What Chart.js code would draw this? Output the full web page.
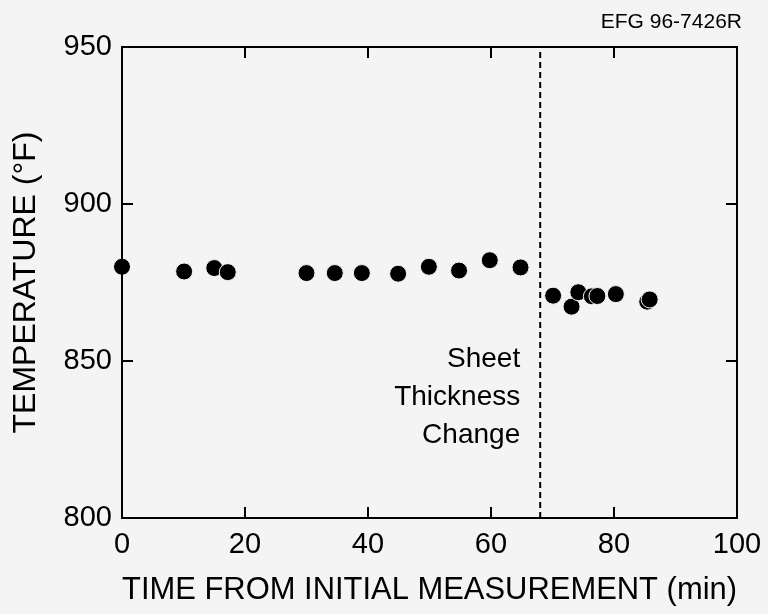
<!DOCTYPE html>
<html>
<head>
<meta charset="utf-8">
<script src="https://cdn.jsdelivr.net/npm/chart.js@4"></script>
<style>
  html, body { margin: 0; padding: 0; background: #f4f4f4; }
  #wrap { position: relative; width: 768px; height: 614px; }
</style>
</head>
<body>
<div id="wrap"><canvas id="c" width="768" height="614"></canvas></div>
<script>
// Data
const timesMin = [0, 10.1, 15, 17.2, 30, 34.6, 39, 44.9, 49.9, 54.8, 59.8, 64.8, 70.1, 73.1, 74.2, 76.4, 77.3, 80.3, 85.4, 85.8];
const tempsF   = [880, 878.5, 879.6, 878.3, 878, 878, 878, 877.8, 880, 878.8, 882.1, 879.8, 870.8, 867.3, 871.9, 870.6, 870.7, 871.3, 868.9, 869.6];
const changeTime = 68;
const xTicks = [0, 20, 40, 60, 80, 100];
const yTicks = [800, 850, 900, 950];
const annotationLines = ["Sheet", "Thickness", "Change"];
const docId = "EFG 96-7426R";

const FONT = "'Liberation Sans', Arial, Helvetica, sans-serif";

const points = timesMin.map((t, i) => ({ x: t, y: tempsF[i] }));

const framePlugin = {
  id: 'frame',
  afterDraw(chart) {
    const { ctx, chartArea: a, scales: { x, y } } = chart;
    ctx.save();
    ctx.strokeStyle = '#000';
    ctx.lineWidth = 2;
    ctx.strokeRect(a.left, a.top, a.right - a.left, a.bottom - a.top);
    // inward ticks
    const tl = 11;
    ctx.beginPath();
    xTicks.slice(1, -1).forEach(v => {
      const px = x.getPixelForValue(v);
      ctx.moveTo(px, a.top); ctx.lineTo(px, a.top + tl);
      ctx.moveTo(px, a.bottom); ctx.lineTo(px, a.bottom - tl);
    });
    yTicks.slice(1, -1).forEach(v => {
      const py = y.getPixelForValue(v);
      ctx.moveTo(a.left, py); ctx.lineTo(a.left + tl, py);
      ctx.moveTo(a.right, py); ctx.lineTo(a.right - tl, py);
    });
    ctx.stroke();
    // annotation text
    ctx.fillStyle = '#000';
    ctx.font = '28px ' + FONT;
    ctx.textAlign = 'right';
    ctx.textBaseline = 'middle';
    const ax = x.getPixelForValue(changeTime) - 20;
    const ay0 = y.getPixelForValue(850) - 2;
    annotationLines.forEach((s, i) => ctx.fillText(s, ax, ay0 + i * 38));
    // document id
    ctx.font = '21px ' + FONT;
    ctx.textAlign = 'right';
    ctx.fillText(docId, 742, 22);
    ctx.restore();
  }
};

new Chart(document.getElementById('c'), {
  type: 'scatter',
  data: {
    datasets: [
      {
        data: points,
        backgroundColor: '#000',
        borderColor: '#f4f4f4',
        borderWidth: 1,
        pointRadius: 8.5,
        pointHoverRadius: 8.5,
        clip: false
      },
      {
        type: 'line',
        data: [{ x: changeTime, y: 800 }, { x: changeTime, y: 950 }],
        borderColor: '#000',
        borderWidth: 2,
        borderDash: [6, 4],
        pointRadius: 0,
        fill: false
      }
    ]
  },
  options: {
    responsive: false,
    animation: false,
    events: [],
    layout: { padding: { top: 47, right: 31, left: 0, bottom: 0 } },
    plugins: { legend: { display: false }, tooltip: { enabled: false } },
    scales: {
      x: {
        type: 'linear',
        min: 0, max: 100,
        afterBuildTicks: s => { s.ticks = xTicks.map(v => ({ value: v })); },
        ticks: { color: '#000', font: { size: 29, family: FONT }, padding: 10, maxRotation: 0 },
        grid: { display: false, drawTicks: false },
        border: { display: false },
        title: { display: true, text: 'TIME FROM INITIAL MEASUREMENT (min)', color: '#000',
                 font: { size: 31, family: FONT }, padding: { top: 4, bottom: 5 } },
        afterFit: s => { s.height = 96; s.paddingLeft = 0; s.paddingRight = 0; }
      },
      y: {
        type: 'linear',
        min: 800, max: 950,
        afterBuildTicks: s => { s.ticks = yTicks.map(v => ({ value: v })); },
        ticks: { color: '#000', font: { size: 29, family: FONT }, padding: 10 },
        grid: { display: false, drawTicks: false },
        border: { display: false },
        title: { display: true, text: 'TEMPERATURE (°F)', color: '#000',
                 font: { size: 32, family: FONT }, padding: { top: 7, bottom: 0 } },
        afterFit: s => { s.width = 122; s.paddingTop = 0; s.paddingBottom = 0; }
      }
    }
  },
  plugins: [framePlugin]
});
</script>
</body>
</html>
